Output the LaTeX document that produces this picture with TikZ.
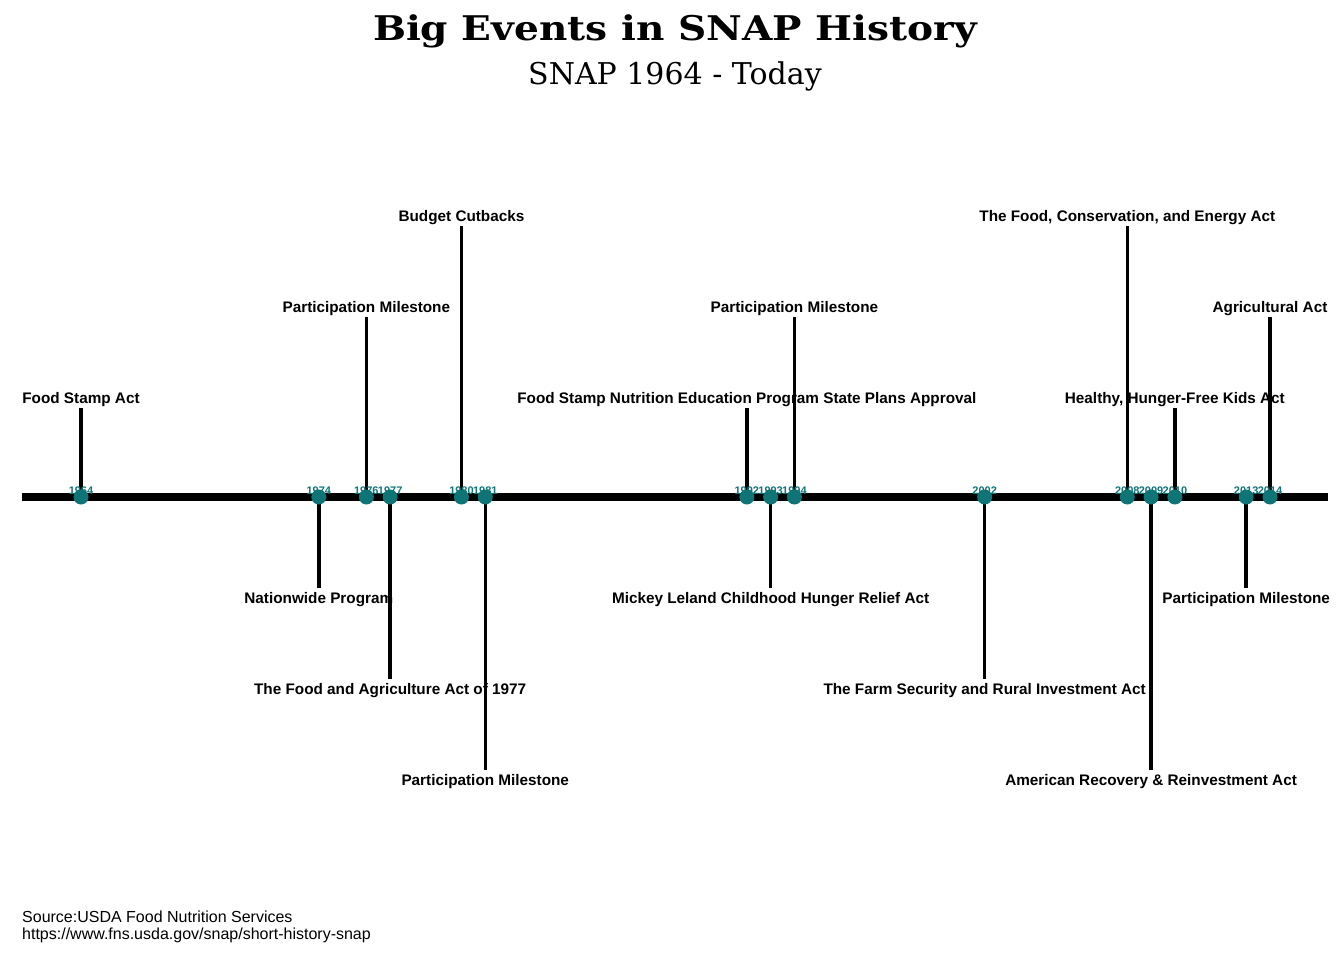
\documentclass[tikz,border=0pt]{standalone}
\usepackage{fontspec}
\setmainfont{Liberation Sans}
\newfontfamily\titlefont{DejaVu Serif}
\usetikzlibrary{positioning}
\definecolor{snapteal}{RGB}{14,116,118}
\def\snapevents{1964/1/Food Stamp Act,1974/-1/Nationwide Program,1976/2/Participation Milestone,1977/-2/The Food and Agriculture Act of 1977,1980/3/Budget Cutbacks,1981/-3/Participation Milestone,1992/1/Food Stamp Nutrition Education Program State Plans Approval,1993/-1/Mickey Leland Childhood Hunger Relief Act,1994/2/Participation Milestone,2002/-2/The Farm Security and Rural Investment Act,2008/3/{The Food, Conservation, and Energy Act},2009/-3/American Recovery \& Reinvestment Act,2010/1/{Healthy, Hunger-Free Kids Act},2013/-1/Participation Milestone,2014/2/Agricultural Act}

\begin{document}
\begin{tikzpicture}[x=1pt,y=-1pt,
 evtup/.style={font=\fontsize{15.3}{17}\selectfont\bfseries,inner sep=1pt,text height=10.8pt,text depth=3pt},
 evtdown/.style={evtup,text height=14.3pt},
 stem/.style={line width=3.5pt},
 dot/.style={circle,fill=snapteal,minimum size=15pt,inner sep=0pt},
 yr/.style={font=\fontsize{11}{12}\selectfont\bfseries,text=snapteal,inner sep=0pt,anchor=base},
 src/.style={font=\fontsize{16}{17}\selectfont,inner sep=0pt,anchor=base west}]
\useasboundingbox(0,0)rectangle(1344,960);
\node[font=\titlefont\fontsize{34}{38}\selectfont\bfseries](title)at(675,31){\scalebox{1.15}[1]{Big Events in SNAP History}};
\node[font=\titlefont\fontsize{30}{34}\selectfont](subtitle)at(675,76){SNAP 1964 - Today};
\foreach \yr/\lv/\txt in \snapevents{
 \pgfmathsetmacro\px{81+23.78*(\yr-1964)}\pgfmathsetmacro\py{497-91*\lv+2*(\lv>0)}
 \coordinate(p\yr)at(\px,497);\coordinate(t\yr)at(\px,\py);
 \ifnum\lv>0 \node[evtup,above=0pt of t\yr](e\yr){\txt};\else\node[evtdown,below=0pt of t\yr](e\yr){\txt};\fi}
\foreach \yr/\lv/\txt in \snapevents{\draw[stem](p\yr)--(e\yr);}
\coordinate(axl)at(22,497);\coordinate(axr)at(1328,497);
\draw[line width=8pt](axl)--(axr);
\foreach \yr/\lv/\txt in \snapevents{\node[dot](d\yr)at(p\yr){};}
\foreach \yr/\lv/\txt in \snapevents{\pgfmathsetmacro\px{81+23.78*(\yr-1964)}\node[yr](y\yr)at(\px,494){\yr};}
\node[src](src1)at(22,922){Source:USDA Food Nutrition Services};
\node[src](src2)at(22,939){https://www.fns.usda.gov/snap/short-history-snap};
\end{tikzpicture}
\end{document}
